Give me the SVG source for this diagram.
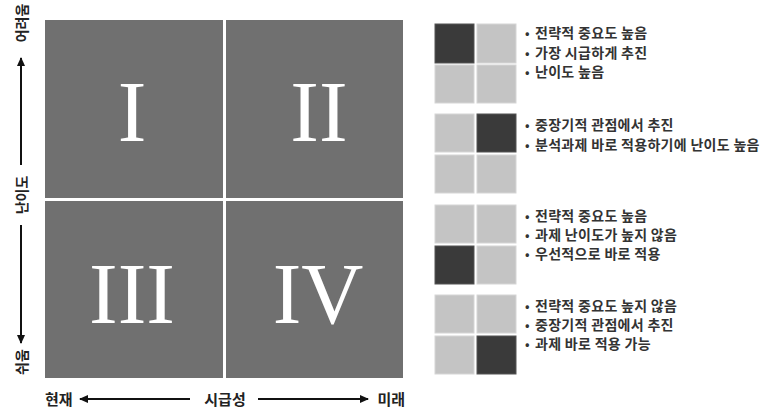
<svg xmlns="http://www.w3.org/2000/svg" width="767" height="417" viewBox="0 0 767 417">
<style>
.q{fill:#707070}
.num{font-family:"Liberation Serif","DejaVu Serif",serif;font-size:86px;fill:#ffffff;text-anchor:middle}
.ax{font-family:"Noto Sans CJK KR","Noto Sans",sans-serif;font-size:15px;font-weight:bold;fill:#222}
.axv{font-family:"Noto Sans CJK KR","Noto Sans",sans-serif;font-size:14px;font-weight:bold;fill:#222;text-anchor:middle;dominant-baseline:central}
.lg{font-family:"Noto Sans CJK KR","Noto Sans",sans-serif;font-size:14px;letter-spacing:0.3px;font-weight:bold;fill:#333}
.bl{font-family:"Noto Sans CJK KR","Noto Sans",sans-serif;font-size:12px;font-weight:bold;fill:#333}
.lt{fill:#c4c4c4;stroke:#d6d6d6;stroke-width:1}
.dk{fill:#3a3a3a;stroke:#555;stroke-width:1}
.arr{stroke:#111;stroke-width:2;fill:none}
</style>
<defs>
<marker id="ah" markerWidth="10" markerHeight="10" refX="8" refY="4" orient="auto" markerUnits="userSpaceOnUse">
<path d="M0,0 L9,4 L0,8 Z" fill="#111"/>
</marker>
</defs>
<rect width="767" height="417" fill="#ffffff"/>
<g id="quadrant-I"><rect class="q" x="45" y="20" width="178" height="178"/><text class="num" x="132" y="141">I</text></g>
<g id="quadrant-II"><rect class="q" x="226" y="20" width="177" height="178"/><text class="num" x="319" y="141">II</text></g>
<g id="quadrant-III"><rect class="q" x="45" y="201" width="178" height="177"/><text class="num" x="132" y="323">III</text></g>
<g id="quadrant-IV"><rect class="q" x="226" y="201" width="177" height="177"/><text class="num" x="318" y="323">IV</text></g>
<g id="axis-y">
<text class="axv" transform="translate(21,23) rotate(-90)">어려움</text>
<text class="axv" transform="translate(21,195) rotate(-90)">난이도</text>
<text class="axv" transform="translate(21,362) rotate(-90)">쉬움</text>
</g>
<g id="axis-x">
<text class="ax" x="45" y="405">현재</text>
<text class="ax" x="225" y="405" text-anchor="middle">시급성</text>
<text class="ax" x="405" y="405" text-anchor="end">미래</text>
</g>
<g id="connectors">
<line class="arr" x1="21" y1="165" x2="21" y2="58" marker-end="url(#ah)"/>
<line class="arr" x1="21" y1="225" x2="21" y2="343" marker-end="url(#ah)"/>
<line class="arr" x1="190" y1="399" x2="80" y2="399" marker-end="url(#ah)"/>
<line class="arr" x1="258" y1="399" x2="368" y2="399" marker-end="url(#ah)"/>
</g>
<g id="legend-I">
<rect class="dk" x="435" y="24" width="39" height="39"/><rect class="lt" x="477" y="24" width="39" height="39"/>
<rect class="lt" x="435" y="65" width="39" height="38"/><rect class="lt" x="477" y="65" width="39" height="38"/>
<text class="bl" x="525" y="38">•</text><text class="lg" x="535" y="38">전략적 중요도 높음</text>
<text class="bl" x="525" y="58">•</text><text class="lg" x="535" y="58">가장 시급하게 추진</text>
<text class="bl" x="525" y="77">•</text><text class="lg" x="535" y="77">난이도 높음</text>
</g>
<g id="legend-II">
<rect class="lt" x="435" y="114" width="39" height="38"/><rect class="dk" x="477" y="114" width="39" height="38"/>
<rect class="lt" x="435" y="155" width="39" height="38"/><rect class="lt" x="477" y="155" width="39" height="38"/>
<text class="bl" x="525" y="130">•</text><text class="lg" x="535" y="130">중장기적 관점에서 추진</text>
<text class="bl" x="525" y="150">•</text><text class="lg" x="535" y="150">분석과제 바로 적용하기에 난이도 높음</text>
</g>
<g id="legend-III">
<rect class="lt" x="435" y="205" width="39" height="38"/><rect class="lt" x="477" y="205" width="39" height="38"/>
<rect class="dk" x="435" y="246" width="39" height="38"/><rect class="lt" x="477" y="246" width="39" height="38"/>
<text class="bl" x="525" y="221">•</text><text class="lg" x="535" y="221">전략적 중요도 높음</text>
<text class="bl" x="525" y="240">•</text><text class="lg" x="535" y="240">과제 난이도가 높지 않음</text>
<text class="bl" x="525" y="259">•</text><text class="lg" x="535" y="259">우선적으로 바로 적용</text>
</g>
<g id="legend-IV">
<rect class="lt" x="435" y="295" width="39" height="38"/><rect class="lt" x="477" y="295" width="39" height="38"/>
<rect class="lt" x="435" y="336" width="39" height="38"/><rect class="dk" x="477" y="336" width="39" height="38"/>
<text class="bl" x="525" y="311">•</text><text class="lg" x="535" y="311">전략적 중요도 높지 않음</text>
<text class="bl" x="525" y="330">•</text><text class="lg" x="535" y="330">중장기적 관점에서 추진</text>
<text class="bl" x="525" y="349">•</text><text class="lg" x="535" y="349">과제 바로 적용 가능</text>
</g>
</svg>
